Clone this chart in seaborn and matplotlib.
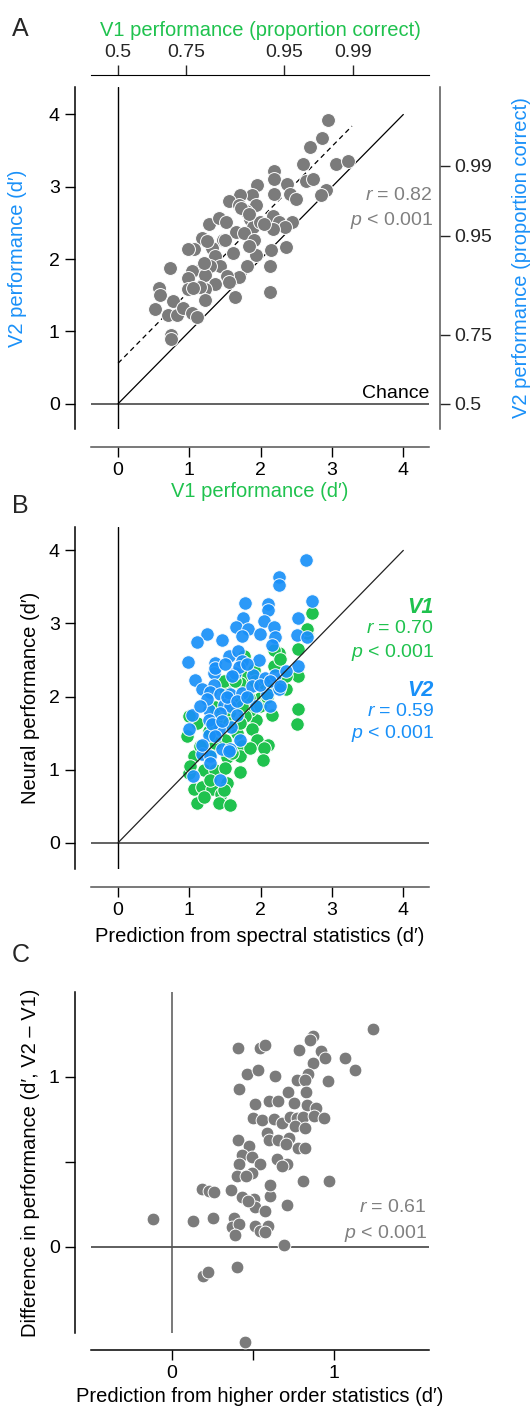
import numpy as np
import pandas as pd
import matplotlib
matplotlib.use('Agg')
import matplotlib.pyplot as plt
import seaborn as sns
from statistics import NormalDist

# ---- panel A: V1 vs V2 performance (d') ----
v1_dprime = [2.95, 2.86, 2.69, 2.60, 3.05, 3.23, 2.18, 2.18, 1.95, 2.37, 2.64, 2.74, 2.92, 2.85,
             2.41, 2.49, 2.18, 1.88, 1.71, 1.56, 1.70, 1.94, 1.79, 1.85, 1.89, 1.99, 2.17, 2.26,
             2.44, 2.34, 2.17, 1.28, 1.42, 1.52, 1.65, 1.76, 1.90, 1.94, 1.84, 2.15, 2.36, 2.13,
             1.81, 1.69, 1.61, 1.475, 1.31, 1.17, 1.06, 0.985, 1.24, 1.36, 1.43, 1.29, 1.15, 1.03,
             0.985, 1.22, 1.36, 1.53, 1.56, 0.73, 1.22, 1.15, 0.985, 1.22, 1.64, 2.13, 0.58, 0.59,
             0.77, 0.52, 0.70, 0.82, 0.915, 1.03, 1.10, 0.74, 0.74, 1.72, 1.83, 2.05, 1.50, 1.20, 1.05]
v2_dprime = [3.92, 3.67, 3.55, 3.31, 3.31, 3.35, 3.22, 3.11, 3.02, 3.04, 3.08, 3.11, 2.96, 2.88,
             2.90, 2.83, 2.90, 2.89, 2.89, 2.80, 2.75, 2.75, 2.67, 2.56, 2.45, 2.51, 2.59, 2.51,
             2.52, 2.45, 2.41, 2.49, 2.57, 2.52, 2.38, 2.36, 2.27, 2.06, 2.18, 2.12, 2.17, 1.91,
             1.90, 1.75, 2.08, 2.27, 2.15, 2.29, 2.14, 2.14, 2.245, 2.04, 1.90, 1.90, 1.85, 1.83,
             1.74, 1.78, 1.65, 1.76, 1.69, 1.88, 1.58, 1.62, 1.58, 1.44, 1.48, 1.54, 1.60, 1.51,
             1.415, 1.31, 1.23, 1.23, 1.32, 1.25, 1.20, 0.95, 0.90, 2.70, 2.62, 2.48, 2.27, 1.95, 1.60]
pc_ticks = [0.5, 0.75, 0.95, 0.99]

# ---- panel B: neural performance vs spectral prediction ----
v1_pred = [2.72, 2.65, 2.53, 2.26, 2.52, 2.52, 2.51, 2.19, 2.36, 2.16, 1.93, 1.88, 1.95, 2.10,
           2.05, 2.03, 1.74, 1.71, 1.53, 1.06, 1.00, 1.20, 1.36, 1.50, 1.06, 1.18, 1.32, 1.45,
           1.10, 1.41, 1.57, 0.97, 1.41, 1.69, 1.85, 1.99, 1.76, 2.04, 1.71, 2.27, 1.50, 2.18,
           1.27, 1.50, 1.67, 1.55, 1.78, 1.29, 1.11, 0.99, 2.65, 1.76, 1.90, 1.48, 1.83, 1.36, 1.71,
           1.64, 1.92, 2.13, 1.74, 1.99, 1.55, 1.71, 1.36, 1.60, 1.15, 1.85, 1.29, 1.53, 1.20,
           1.48, 1.01, 2.27, 2.36, 2.09]
v1_neural = [3.14, 2.87, 2.65, 2.60, 2.28, 1.83, 1.63, 2.42, 2.10, 1.75, 1.685, 1.55, 1.40, 1.34,
             1.30, 1.13, 1.32, 1.19, 1.17, 1.19, 0.96, 0.99, 0.99, 1.02, 0.73, 0.76, 0.74, 0.66,
             0.54, 0.54, 0.51, 1.46, 1.685, 1.91, 1.82, 1.98, 2.28, 2.19, 2.19, 2.19, 2.10, 2.64,
             1.525, 1.41, 1.50, 1.77, 1.73, 1.23, 1.64, 1.73, 2.92, 2.55, 2.37, 2.21, 1.98, 1.86, 0.97,
             2.21, 2.21, 2.10, 1.87, 1.87, 1.64, 1.64, 1.36, 1.23, 1.32, 1.30, 0.86, 0.82, 0.63,
             0.72, 1.05, 2.51, 2.28, 2.00]
v2_pred = [2.64, 2.26, 2.26, 2.72, 1.78, 2.10, 2.10, 2.53, 1.75, 2.05, 1.66, 1.82, 2.18, 1.25,
           1.10, 1.46, 1.74, 1.99, 2.20, 2.51, 2.65, 2.16, 0.98, 1.36, 1.55, 1.68, 1.74, 1.97,
           2.52, 1.34, 1.64, 1.89, 2.06, 2.20, 2.36, 1.08, 1.34, 1.18, 1.29, 1.43, 1.57, 1.74,
           1.88, 2.09, 2.25, 1.48, 1.57, 1.27, 1.04, 1.43, 1.67, 1.94, 2.13, 1.27, 1.58, 1.41,
           1.00, 1.27, 1.71, 1.18, 1.29, 1.46, 1.57, 1.05, 1.43,
           1.36, 1.50, 1.69, 1.81, 1.60, 1.53, 1.67, 1.81, 1.99, 1.25, 1.15, 1.32, 1.46, 1.36,
           1.18, 1.29, 1.55, 2.13, 2.27]
v2_neural = [3.87, 3.63, 3.52, 3.31, 3.28, 3.27, 3.18, 3.07, 3.07, 3.04, 2.95, 2.92, 2.95, 2.86,
             2.74, 2.77, 2.83, 2.86, 2.82, 2.84, 2.82, 2.71, 2.47, 2.46, 2.56, 2.63, 2.48, 2.50,
             2.42, 2.32, 2.32, 2.30, 2.26, 2.30, 2.35, 2.23, 2.16, 2.10, 2.06, 2.04, 2.04, 2.05,
             2.14, 2.04, 2.10, 1.89, 1.87, 1.82, 1.75, 1.77, 1.75, 1.87, 1.87, 1.685, 1.59, 1.55,
             1.55, 1.48, 1.40, 1.21, 1.19, 1.28, 1.28, 0.91, 0.86,
             2.39, 2.44, 2.41, 2.44, 2.28, 2.00, 1.94, 2.00, 2.16, 1.96, 1.87, 1.62, 1.66, 1.46,
             1.34, 1.09, 1.25, 2.21, 2.14]

# ---- panel C: V2 - V1 difference vs higher order prediction ----
ho_pred = [1.24, 0.867, 0.853, 0.404, 0.544, 0.575, 0.785, 0.92, 0.946, 1.07, 1.13, 0.867, 0.46,
           0.53, 0.633, 0.838, 0.77, 0.82, 0.96, 0.415, 0.715, 0.826, 0.513, 0.596, 0.653, 0.75,
           0.832, 0.89, 0.497, 0.554, 0.627, 0.678, 0.73, 0.77, 0.81, 0.874, 0.935, 0.76, 0.82,
           0.585, 0.596, 0.653, 0.72, 0.70, 0.78, 0.82, 0.404, 0.476, 0.43, 0.494, 0.415, 0.544,
           0.494, 0.402, 0.456, 0.647, 0.709, 0.678, 0.806, 0.97, 0.184, 0.225, 0.256, 0.365,
           0.43, 0.503, 0.606, 0.606, 0.513, 0.572, 0.711, 0.47, -0.12, 0.127, 0.25, 0.384, 0.37,
           0.415, 0.39, 0.513, 0.544, 0.59, 0.575, 0.69, 0.40, 0.188, 0.222, 0.447]
diff_v2_v1 = [1.28, 1.24, 1.22, 1.17, 1.17, 1.19, 1.16, 1.15, 1.11, 1.11, 1.04, 1.08, 1.02, 1.04,
              1.006, 1.02, 0.98, 0.98, 0.976, 0.93, 0.91, 0.91, 0.84, 0.86, 0.86, 0.845, 0.835,
              0.816, 0.757, 0.747, 0.75, 0.727, 0.767, 0.757, 0.767, 0.77, 0.76, 0.71, 0.70, 0.67,
              0.63, 0.63, 0.64, 0.606, 0.58, 0.58, 0.63, 0.594, 0.54, 0.53, 0.49, 0.485, 0.437,
              0.42, 0.42, 0.52, 0.485, 0.475, 0.39, 0.39, 0.34, 0.33, 0.325, 0.333, 0.296, 0.28,
              0.30, 0.365, 0.237, 0.21, 0.247, 0.27, 0.165, 0.153, 0.17, 0.17, 0.116, 0.135, 0.07,
              0.124, 0.094, 0.126, 0.09, 0.012, -0.12, -0.17, -0.15, -0.557]

GRAY = '#7b7b7b'
GREEN = '#1fc24e'
BLUE = '#1990f8'
LINE_GRAY = '#555555'

sns.set_style('white')
plt.rcParams['font.family'] = ['Liberation Sans', 'DejaVu Sans']
plt.rcParams['mathtext.fontset'] = 'custom'
plt.rcParams['mathtext.rm'] = 'Liberation Sans'
plt.rcParams['mathtext.it'] = 'Liberation Sans:italic'

fig = plt.figure(figsize=(5.3, 14.08), dpi=100)
axA = fig.add_axes([0.1717, 0.6953, 0.6377, 0.2429])
axB = fig.add_axes([0.1717, 0.3828, 0.6377, 0.2429])
axC = fig.add_axes([0.1717, 0.0533, 0.6377, 0.2422])

TICK_FS = 14
LAB_FS = 14.5


def base_style(ax, left_off=11.5, bottom_off=13):
    sns.despine(ax=ax, offset={'left': left_off, 'bottom': bottom_off})
    ax.spines['left'].set_color('black')
    ax.spines['bottom'].set_color(LINE_GRAY)
    for s in ['left', 'bottom']:
        ax.spines[s].set_linewidth(1.1)
    ax.tick_params(direction='out', length=7, width=1, labelsize=TICK_FS, pad=4,
                   left=True, bottom=True, colors='black')


# ---------------- A ----------------
dfA = pd.DataFrame({'v1': v1_dprime, 'v2': v2_dprime})
axA.axhline(0, color=LINE_GRAY, lw=1.3, zorder=1)
axA.axvline(0, color='black', lw=1, zorder=1)
axA.plot([0, 4], [0, 4], color='black', lw=0.9, zorder=1)
offset = np.mean(dfA['v2'] - dfA['v1'])
xfit = np.array([0, dfA['v1'].max() + 0.05])
axA.plot(xfit, xfit + offset, color='black', lw=0.9, ls=(0, (4, 3)), zorder=1)
sns.scatterplot(data=dfA, x='v1', y='v2', ax=axA, color=GRAY, s=100,
                edgecolor='white', linewidth=0.7, zorder=3, legend=False)
axA.set_xlim(-0.38, 4.36)
axA.set_ylim(-0.35, 4.38)
axA.set_xticks([0, 1, 2, 3, 4])
axA.set_yticks([0, 1, 2, 3, 4])
base_style(axA)
axA.set_xlabel('V1 performance (d′)', color=GREEN, fontsize=LAB_FS)
axA.set_ylabel('V2 performance (d′)', color=BLUE, fontsize=LAB_FS)
axA.xaxis.set_label_coords(0.5, -0.155)
axA.yaxis.set_label_coords(-0.19, 0.5)

pc_pos = [np.sqrt(2) * NormalDist().inv_cdf(p) for p in pc_ticks]
pc_labels = [f'{p:g}' for p in pc_ticks]

axTop = axA.twiny()
axTop.set_xlim(axA.get_xlim())
axTop.set_xticks(pc_pos, pc_labels)
for s in ['left', 'right', 'bottom']:
    axTop.spines[s].set_visible(False)
axTop.spines['top'].set_visible(True)
axTop.spines['top'].set_position(('outward', 8.6))
axTop.spines['top'].set_color('black')
axTop.tick_params(axis='x', direction='out', length=7, width=1, labelsize=TICK_FS, pad=3,
                  top=True, labeltop=True)
axTop.set_xlabel('V1 performance (proportion correct)', color=GREEN, fontsize=LAB_FS)
axTop.xaxis.set_label_coords(0.5, 1.15)

axRight = axA.twinx()
axRight.set_ylim(axA.get_ylim())
axRight.set_yticks(pc_pos, pc_labels)
for s in ['left', 'top', 'bottom']:
    axRight.spines[s].set_visible(False)
axRight.spines['right'].set_visible(True)
axRight.spines['right'].set_position(('outward', 7.9))
axRight.spines['right'].set_color(LINE_GRAY)
axRight.spines['right'].set_linewidth(1.1)
axRight.tick_params(axis='y', direction='out', length=7, width=1, labelsize=TICK_FS, pad=3,
                    right=True, labelright=True)
axRight.set_ylabel('V2 performance (proportion correct)', color=BLUE, fontsize=LAB_FS)
axRight.yaxis.set_label_coords(1.245, 0.5)

axA.annotate('Chance', xy=(1.0, 0.03), xycoords=('axes fraction', 'data'),
             ha='right', va='bottom', fontsize=TICK_FS, color='black')
axA.text(1.012, 0.684, '$r$ = 0.82', transform=axA.transAxes, ha='right', va='center',
         fontsize=TICK_FS, color='#808080')
axA.text(1.012, 0.611, '$p$ < 0.001', transform=axA.transAxes, ha='right', va='center',
         fontsize=TICK_FS, color='#808080')

# ---------------- B ----------------
dfB1 = pd.DataFrame({'pred': v1_pred, 'neural': v1_neural})
dfB2 = pd.DataFrame({'pred': v2_pred, 'neural': v2_neural})
axB.axhline(0, color=LINE_GRAY, lw=1.3, zorder=1)
axB.axvline(0, color='black', lw=1, zorder=1)
axB.plot([0, 4], [0, 4], color='#222222', lw=0.9, zorder=5)
sns.scatterplot(data=dfB1, x='pred', y='neural', ax=axB, color=GREEN, s=95,
                edgecolor='white', linewidth=0.7, zorder=3, legend=False)
sns.scatterplot(data=dfB2, x='pred', y='neural', ax=axB, color=BLUE, s=95, alpha=0.92,
                edgecolor='white', linewidth=0.7, zorder=4, legend=False)
axB.set_xlim(-0.38, 4.36)
axB.set_ylim(-0.36, 4.32)
axB.set_xticks([0, 1, 2, 3, 4])
axB.set_yticks([0, 1, 2, 3, 4])
base_style(axB)
axB.set_xlabel('Prediction from spectral statistics (d′)', fontsize=LAB_FS, color='black')
axB.set_ylabel('Neural performance (d′)', fontsize=LAB_FS, color='black')
axB.xaxis.set_label_coords(0.5, -0.17)
axB.yaxis.set_label_coords(-0.15, 0.5)

tx = 1.015
axB.text(tx, 0.766, 'V1', transform=axB.transAxes, ha='right', va='center',
         fontsize=15.5, fontweight='bold', fontstyle='italic', color=GREEN)
axB.text(tx, 0.702, '$r$ = 0.70', transform=axB.transAxes, ha='right', va='center',
         fontsize=TICK_FS, color=GREEN)
axB.text(tx, 0.632, '$p$ < 0.001', transform=axB.transAxes, ha='right', va='center',
         fontsize=TICK_FS, color=GREEN)
axB.text(tx, 0.523, 'V2', transform=axB.transAxes, ha='right', va='center',
         fontsize=15.5, fontweight='bold', fontstyle='italic', color=BLUE)
axB.text(tx, 0.462, '$r$ = 0.59', transform=axB.transAxes, ha='right', va='center',
         fontsize=TICK_FS, color=BLUE)
axB.text(tx, 0.395, '$p$ < 0.001', transform=axB.transAxes, ha='right', va='center',
         fontsize=TICK_FS, color=BLUE)

# ---------------- C ----------------
dfC = pd.DataFrame({'ho': ho_pred, 'diff': diff_v2_v1})
axC.axhline(0, color='#333333', lw=1.1, zorder=1)
axC.axvline(0, color=LINE_GRAY, lw=1.1, zorder=1)
sns.scatterplot(data=dfC, x='ho', y='diff', ax=axC, color=GRAY, s=85,
                edgecolor='white', linewidth=0.7, zorder=3, legend=False, clip_on=False)
axC.set_xlim(-0.5, 1.585)
axC.set_ylim(-0.506, 1.5)
axC.set_xticks([0, 0.5, 1], ['0', '', '1'])
axC.set_yticks([0, 0.5, 1], ['0', '', '1'])
base_style(axC, bottom_off=12.3)
axC.spines['bottom'].set_color('black')
axC.set_xlabel('Prediction from higher order statistics (d′)', fontsize=LAB_FS, color='black')
axC.set_ylabel('Difference in performance (d′, V2 – V1)', fontsize=LAB_FS, color='black')
axC.xaxis.set_label_coords(0.5, -0.158)
axC.yaxis.set_label_coords(-0.15, 0.5)
axC.text(0.994, 0.367, '$r$ = 0.61', transform=axC.transAxes, ha='right', va='center',
         fontsize=TICK_FS, color='#808080')
axC.text(0.994, 0.293, '$p$ < 0.001', transform=axC.transAxes, ha='right', va='center',
         fontsize=TICK_FS, color='#808080')

# panel letters
fig.text(12 / 530, 1 - 36 / 1408, 'A', fontsize=18, ha='left', va='baseline')
fig.text(12 / 530, 1 - 513 / 1408, 'B', fontsize=18, ha='left', va='baseline')
fig.text(12 / 530, 1 - 962 / 1408, 'C', fontsize=18, ha='left', va='baseline')

fig.savefig('out.png', dpi=100)
